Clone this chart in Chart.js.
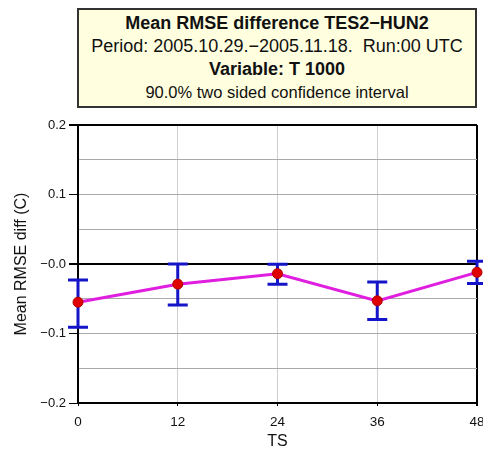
<!DOCTYPE html>
<html>
<head>
<meta charset="utf-8">
<script src="https://cdn.jsdelivr.net/npm/chart.js@4"></script>
<style>
  body { margin: 0; background: #fff; }
  #wrap { position: relative; width: 483px; height: 452px; }
  #titleBox {
    position: absolute; left: 77px; top: 8px; width: 396px; height: 94px;
    border: 2px solid #333; background: #ffffdf;
    font-family: "Liberation Sans", Arial, sans-serif; color: #111;
    text-align: center; line-height: 23px; padding-top: 2px;
  }
  #titleBox .b { font-weight: bold; font-size: 18px; }
  #titleBox .n { font-size: 18px; }
  #titleBox .s { font-size: 16.5px; }
</style>
</head>
<body>
<div id="wrap">
  <canvas id="rmseChart" width="483" height="452"></canvas>
  <div id="titleBox">
    <div class="b">Mean RMSE difference TES2&minus;HUN2</div>
    <div class="n">Period: 2005.10.29.&minus;2005.11.18.&nbsp; Run:00 UTC</div>
    <div class="b">Variable: T 1000</div>
    <div class="s">90.0% two sided confidence interval</div>
  </div>
</div>
<script>
var steps = [0, 12, 24, 36, 48];
var meanDiff = [-0.055, -0.029, -0.014, -0.053, -0.012];
var upperCI = [-0.023, 0.000, -0.0005, -0.026, 0.004];
var lowerCI = [-0.091, -0.059, -0.029, -0.080, -0.028];

// whiskers drawn under the line, using the chart's own scales
var errorBars = {
    id: 'errorBars',
    beforeDatasetsDraw: function(chart) {
        var ctx = chart.ctx;
        var x = chart.scales.x, y = chart.scales.y;
        ctx.save();
        ctx.strokeStyle = '#1414c8';
        ctx.lineWidth = 3;
        for (var i = 0; i < steps.length; i++) {
            var px = x.getPixelForValue(steps[i]);
            var top = y.getPixelForValue(upperCI[i]);
            var bot = y.getPixelForValue(lowerCI[i]);
            ctx.beginPath();
            ctx.moveTo(px, top); ctx.lineTo(px, bot);
            ctx.moveTo(px - 10, top); ctx.lineTo(px + 10, top);
            ctx.moveTo(px - 10, bot); ctx.lineTo(px + 10, bot);
            ctx.stroke();
        }
        ctx.restore();
    }
};

function yLabel(v) {
    var r = Math.round(v * 100);
    if (r % 10 !== 0) return '';
    if (r === 0) return '\u22120.0';
    return (r < 0 ? '\u2212' : '') + (Math.abs(r) / 100).toFixed(1);
}

var fontFam = '"Liberation Sans", Arial, sans-serif';

var ctxChart = document.getElementById('rmseChart').getContext('2d');
var rmseChart = new Chart(ctxChart, {
    type: 'line',
    data: {
        datasets: [{
            data: steps.map(function(s, i) { return { x: s, y: meanDiff[i] }; }),
            borderColor: '#e01ee0',
            borderWidth: 3,
            pointBackgroundColor: '#e00000',
            pointBorderColor: '#b00000',
            pointBorderWidth: 1,
            pointRadius: 5,
            clip: false
        }]
    },
    options: {
        responsive: false,
        animation: false,
        layout: { padding: { top: 125, right: 6, bottom: 0, left: 0 } },
        plugins: { legend: { display: false }, tooltip: { enabled: false } },
        scales: {
            x: {
                type: 'linear', min: 0, max: 48,
                ticks: { stepSize: 12, color: '#111', padding: 8, maxRotation: 0,
                         font: { family: fontFam, size: 13.5 } },
                grid: {
                    color: function(c) { return c.tick.value === 48 ? '#000' : '#cfcfcf'; },
                    lineWidth: function(c) { return c.tick.value === 48 ? 2 : 1; },
                    tickColor: '#000', tickLength: 3
                },
                border: { color: '#000', width: 2 },
                title: { display: true, text: 'TS', color: '#111',
                         font: { family: fontFam, size: 16 }, padding: { top: 0, bottom: 1 } },
                afterFit: function(s) { s.height = 49; s.paddingLeft = 0; s.paddingRight = 0; }
            },
            y: {
                min: -0.2, max: 0.2,
                ticks: { stepSize: 0.05, color: '#111', padding: 3, autoSkip: false,
                         font: { family: fontFam, size: 13 }, callback: yLabel },
                grid: {
                    color: function(c) {
                        var r = Math.round(c.tick.value * 100);
                        return (r === 0 || r === 20) ? '#000' : '#aaaaaa';
                    },
                    lineWidth: function(c) {
                        var r = Math.round(c.tick.value * 100);
                        return (r === 0 || r === 20) ? 2 : 1;
                    },
                    tickColor: function(c) {
                        return Math.round(c.tick.value * 100) % 10 === 0 ? '#000' : 'rgba(0,0,0,0)';
                    },
                    tickLength: 9
                },
                border: { color: '#000', width: 2 },
                title: { display: true, text: 'Mean RMSE diff (C)', color: '#111',
                         font: { family: fontFam, size: 16 }, padding: { top: 12, bottom: 0 } },
                afterFit: function(s) { s.width = 78; s.paddingTop = 0; s.paddingBottom = 0; }
            }
        }
    },
    plugins: [errorBars]
});
</script>
</body>
</html>
